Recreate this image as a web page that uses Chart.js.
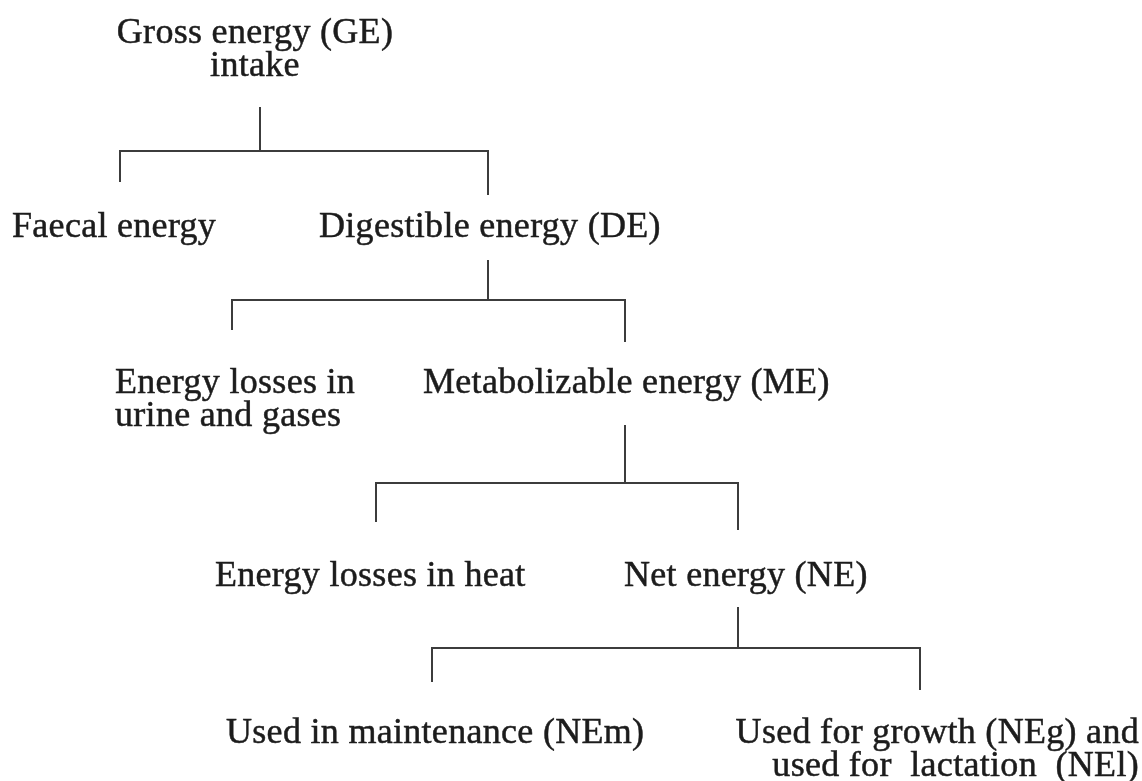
<!DOCTYPE html>
<html>
<head>
<meta charset="utf-8">
<script src="https://cdn.jsdelivr.net/npm/chart.js@4.4.0/dist/chart.umd.min.js"></script>
<style>
  html, body { margin: 0; padding: 0; background: #fff; }
  #wrap { width: 1142px; height: 781px; }
</style>
</head>
<body>
<div id="wrap"><canvas id="tree"></canvas></div>
<script>
// node texts (one entry per box, each a list of lines)
const nodeLines = [
    ['Gross energy (GE)', 'intake'],
    ['Faecal energy'],
    ['Digestible energy (DE)'],
    ['Energy losses in', 'urine and gases'],
    ['Metabolizable energy (ME)'],
    ['Energy losses in heat'],
    ['Net energy (NE)'],
    ['Used in maintenance (NEm)'],
    ['Used for growth (NEg) and', 'used for  lactation  (NEl)']
];
const nodeX = [255, 12, 319, 115, 423, 215, 624, 226, 1139];
const nodeY = [34, 228, 228, 384, 384, 577, 577, 734, 734];
const nodeAlign = ['center', 'left', 'left', 'left', 'left', 'left', 'left', 'left', 'right'];

// bracket connectors, one per split
const stemX = [260, 488, 625, 738];
const stemTop = [107, 260, 425, 607];
const barY = [151, 300, 483, 648];
const barLeft = [120, 232, 376, 432];
const barRight = [488, 625, 738, 920];
const leftDropEnd = [182, 330, 522, 682];
const rightDropEnd = [195, 342, 530, 690];

const datasets = [];
stemX.forEach((sx, i) => {
    datasets.push({
        data: [{x: sx, y: stemTop[i]}, {x: sx, y: barY[i]}]
    });
    datasets.push({
        data: [
            {x: barLeft[i], y: leftDropEnd[i]},
            {x: barLeft[i], y: barY[i]},
            {x: barRight[i], y: barY[i]},
            {x: barRight[i], y: rightDropEnd[i]}
        ]
    });
});
datasets.forEach(d => Object.assign(d, {
    showLine: true,
    borderColor: '#3c3c3c',
    borderWidth: 2,
    pointRadius: 0,
    tension: 0,
    fill: false
}));

const nodeText = {
    id: 'nodeText',
    afterDatasetsDraw(chart) {
        const {ctx, scales: {x, y}} = chart;
        ctx.save();
        ctx.font = '36px "Liberation Serif", "DejaVu Serif", serif';
        ctx.letterSpacing = '0.3px';
        ctx.fillStyle = '#1c1c1c';
        ctx.strokeStyle = '#1c1c1c';
        ctx.lineWidth = 0.5;
        ctx.textBaseline = 'middle';
        nodeLines.forEach((lines, i) => {
            ctx.textAlign = nodeAlign[i];
            lines.forEach((line, j) => {
                const px = x.getPixelForValue(nodeX[i]);
                const py = y.getPixelForValue(nodeY[i] + j * 33);
                ctx.fillText(line, px, py);
                ctx.strokeText(line, px, py);
            });
        });
        ctx.restore();
    }
};

new Chart(document.getElementById('tree'), {
    type: 'scatter',
    data: { datasets },
    options: {
        responsive: true,
        maintainAspectRatio: false,
        animation: false,
        layout: { padding: 0 },
        plugins: { legend: { display: false }, tooltip: { enabled: false } },
        scales: {
            x: { type: 'linear', min: 0, max: 1142, display: false },
            y: { type: 'linear', min: 0, max: 781, reverse: true, display: false }
        }
    },
    plugins: [nodeText]
});
</script>
</body>
</html>
